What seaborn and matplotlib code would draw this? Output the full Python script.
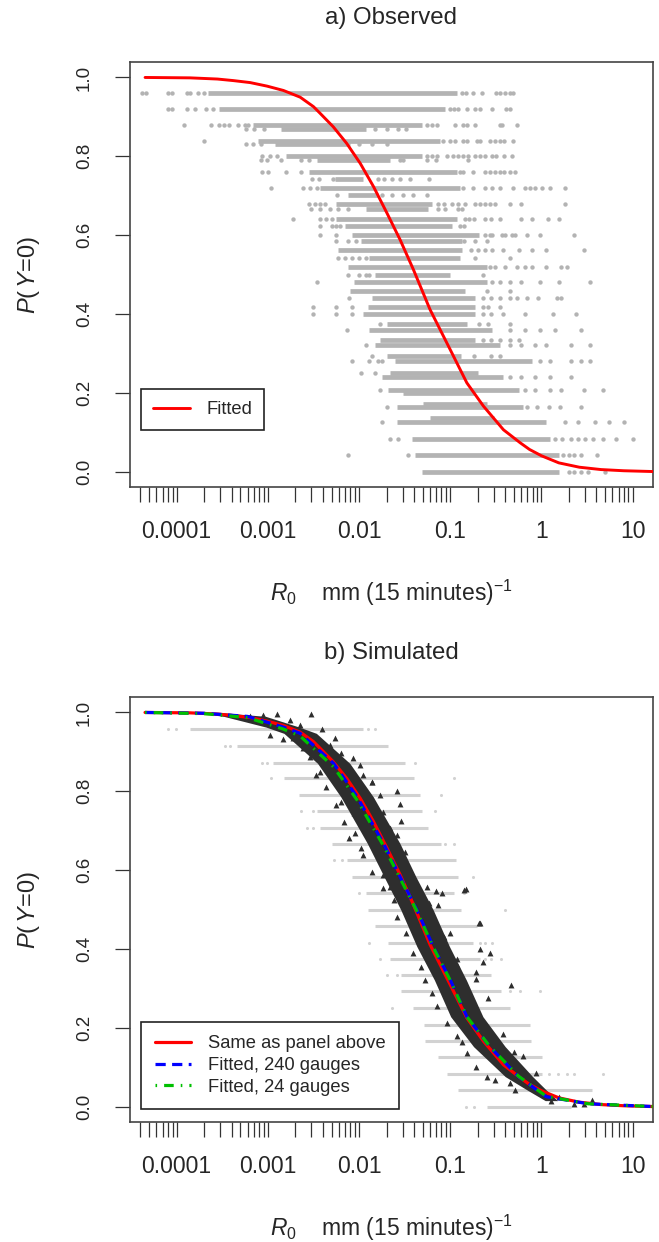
import matplotlib
matplotlib.use("Agg")
import matplotlib.pyplot as plt
import seaborn as sns
import pandas as pd
from matplotlib.ticker import FixedLocator, FixedFormatter, NullFormatter
from matplotlib.lines import Line2D

sns.set_theme(style="white")
plt.rcParams["font.family"] = ["Liberation Sans", "DejaVu Sans"]
plt.rcParams["mathtext.fontset"] = "custom"
plt.rcParams["mathtext.rm"] = "Liberation Sans"
plt.rcParams["mathtext.it"] = "Liberation Sans:italic"

# ---------------------------------------------------------------
# a) observed: rows of P(Y=0), dense part of each row + loose dots
# ---------------------------------------------------------------
obs_y = [0.96, 0.92, 0.88, 0.868, 0.84, 0.83, 0.80, 0.79, 0.76, 0.742,
         0.72, 0.702, 0.68, 0.666, 0.641, 0.624, 0.601, 0.584, 0.563, 0.542,
         0.52, 0.499, 0.48, 0.459, 0.44, 0.417, 0.40, 0.375, 0.36, 0.333,
         0.32, 0.292, 0.28, 0.25, 0.24, 0.208, 0.20, 0.172, 0.164, 0.135,
         0.125, 0.083, 0.042, 0.0]
obs_lo = [2.2e-4, 2.9e-4, 6.9e-4, 1.4e-3, 7.8e-4, 1.2e-3, 1.6e-3, 3.5e-3, 2.8e-3, 5.5e-3,
          3.7e-3, 7.6e-3, 5.6e-3, 1.2e-2, 5.6e-3, 7.0e-3, 8.4e-3, 1.05e-2, 5.8e-3, 1.3e-2,
          7.6e-3, 1.5e-2, 8.8e-3, 8.0e-3, 1.4e-2, 1.26e-2, 1.1e-2, 2.0e-2, 1.3e-2, 1.7e-2,
          1.5e-2, 2.0e-2, 2.5e-2, 2.2e-2, 1.8e-2, 2.1e-2, 3.0e-2, 5.0e-2, 2.6e-2, 6.0e-2,
          2.6e-2, 3.8e-2, 4.1e-2, 4.9e-2]
obs_hi = [0.119, 8.8e-2, 4.9e-2, 1.2e-2, 7.7e-2, 8.0e-3, 4.9e-2, 2.2e-2, 0.119, 1.1e-2,
          0.128, 1.6e-2, 6.3e-2, 5.7e-2, 0.119, 0.105, 0.205, 0.135, 0.135, 0.128,
          0.25, 0.10, 0.25, 0.145, 0.186, 0.186, 0.186, 0.152, 0.29, 0.186,
          0.35, 0.13, 0.79, 0.20, 0.38, 0.57, 0.186, 0.25, 0.63, 0.30,
          1.13, 1.25, 1.56, 1.56]
obs_dots = [
    [4.2e-5, 4.6e-5, 8.1e-5, 8.9e-5, 1.3e-4, 1.4e-4, 1.7e-4, 2.0e-4, 0.135, 0.149, 0.176, 0.22, 0.32, 0.35, 0.40, 0.45, 0.49],
    [8.1e-5, 8.9e-5, 1.3e-4, 1.6e-4, 2.1e-4, 2.5e-4, 0.10, 0.11, 0.122, 0.152, 0.186, 0.21, 0.29, 0.41, 0.45],
    [1.2e-4, 2.4e-4, 2.9e-4, 3.3e-4, 3.7e-4, 4.7e-4, 5.6e-4, 6.1e-4, 5.6e-2, 6.3e-2, 7.2e-2, 0.113, 0.138, 0.152, 0.186, 0.35, 0.37, 0.54],
    [5.8e-4, 7.0e-4, 9.0e-4, 1.5e-2, 2.0e-2, 2.7e-2, 3.3e-2],
    [2.0e-4, 8.3e-2, 0.10, 0.113, 0.138, 0.152, 0.195, 0.21, 0.27, 0.31, 0.35, 0.39, 0.49],
    [5.8e-4, 6.9e-4, 8.4e-4, 1.0e-2, 1.4e-2, 2.0e-2],
    [8.7e-4, 1.06e-3, 1.26e-3, 5.6e-2, 6.3e-2, 7.2e-2, 9.2e-2, 0.108, 0.122, 0.138, 0.156, 0.186, 0.21, 0.24, 0.29, 0.32, 0.39, 0.47],
    [8.4e-4, 9.8e-4, 1.4e-3, 2.3e-3, 2.8e-3, 2.8e-2, 3.0e-2, 5.6e-2, 7.0e-2, 0.156],
    [8.7e-4, 1.0e-3, 1.6e-3, 2.3e-3, 0.128, 0.138, 0.176, 0.24, 0.27, 0.31, 0.35, 0.39, 0.45, 0.51],
    [3.06e-3, 3.6e-3, 5.2e-3, 1.6e-2, 1.9e-2, 2.3e-2, 2.8e-2, 3.6e-2, 5.9e-2],
    [1.09e-3, 2.4e-3, 2.9e-3, 3.5e-3, 0.138, 0.176, 0.24, 0.29, 0.35, 0.49, 0.66, 0.75, 0.85, 1.02, 1.25, 1.82],
    [5.7e-3, 1.8e-2, 2.3e-2, 3.0e-2, 3.9e-2, 5.6e-2],
    [2.8e-3, 3.3e-3, 3.7e-3, 4.2e-3, 7.4e-2, 8.6e-2, 0.105, 0.122, 0.145, 0.186, 0.21, 0.24, 0.27, 0.31, 0.45, 0.60, 1.82],
    [3.0e-3, 3.7e-3, 4.8e-3, 5.8e-3, 7.6e-3, 7.4e-2, 8.8e-2, 0.122, 0.135],
    [1.9e-3, 3.7e-3, 4.3e-3, 5.1e-3, 0.145, 0.16, 0.18, 0.24, 0.28, 0.35, 0.60, 0.79, 1.18, 1.56],
    [3.7e-3, 5.1e-3, 5.6e-3, 6.2e-3, 0.128, 0.141],
    [3.7e-3, 5.6e-3, 0.24, 0.27, 0.29, 0.37, 0.40, 0.47, 0.51, 0.70, 0.97, 2.3],
    [5.6e-3, 7.6e-3, 9.3e-3, 0.141, 0.186, 0.25],
    [0.17, 0.20, 0.24, 0.29, 0.38, 0.57, 0.79, 1.13, 2.9],
    [5.8e-3, 7.0e-3, 8.4e-3, 1.0e-2, 1.2e-2, 0.186, 0.45],
    [0.27, 0.31, 0.40, 0.54, 0.66, 0.79, 1.13, 1.64, 1.9],
    [7.6e-3, 1.0e-2, 1.2e-2, 1.3e-2, 0.23],
    [3.5e-3, 0.29, 0.35, 0.45, 0.60, 0.97, 1.56, 3.4],
    [0.25, 0.45],
    [7.8e-3, 0.23, 0.28, 0.35, 0.45, 0.54, 0.70, 0.92, 1.49, 1.64],
    [3.1e-3, 5.6e-3, 8.4e-3, 0.23, 0.26, 0.35],
    [3.1e-3, 5.6e-3, 8.4e-3, 0.23, 0.28, 0.38, 0.66, 1.34, 2.4],
    [1.7e-2, 0.205, 0.26, 0.45],
    [7.4e-3, 0.45, 0.66, 0.97, 1.41, 2.7],
    [0.23, 0.28, 0.35, 0.45, 0.57],
    [1.2e-2, 0.45, 0.60, 0.85, 1.13, 2.1, 3.4],
    [1.4e-2, 0.18, 0.28, 0.35],
    [8.4e-3, 1.3e-2, 1.6e-2, 1.8e-2, 0.97, 1.25, 2.1, 2.7, 3.4],
    [1.05e-2, 1.5e-2],
    [0.45, 0.60, 0.85, 1.25, 2.1],
    [1.7e-2, 0.66, 0.85, 1.25, 1.64, 2.9, 4.7],
    [],
    [],
    [2.0e-2, 0.70, 0.90, 1.2, 1.6, 2.7],
    [],
    [1.8e-2, 1.82, 2.5, 3.9, 5.5, 8.0],
    [2.2e-2, 2.7e-2, 1.41, 1.7, 2.1, 2.5, 3.0, 3.7, 4.7, 6.5, 10.0],
    [7.5e-3, 3.4e-2, 1.73, 2.0, 2.3, 2.7, 4.1],
    [2.0, 2.3, 2.7, 3.2, 5.0],
]

# fitted curve (red)
fit_x = [4.5e-5, 1.4e-4, 2.8e-4, 4.2e-4, 6.4e-4, 9.8e-4, 1.48e-3, 2.26e-3, 3.16e-3, 3.74e-3,
         5.2e-3, 7.3e-3, 1.03e-2, 1.44e-2, 2.02e-2, 2.82e-2, 3.95e-2, 6.0e-2, 0.10, 0.152,
         0.231, 0.383, 0.584, 0.74, 1.0, 1.55, 2.6, 4.5, 8.0, 16.6]
fit_y = [1.0, 0.999, 0.996, 0.992, 0.987, 0.978, 0.967, 0.950, 0.926, 0.909,
         0.875, 0.833, 0.782, 0.723, 0.656, 0.588, 0.512, 0.411, 0.309, 0.225,
         0.166, 0.106, 0.073, 0.056, 0.040, 0.022, 0.011, 0.005, 0.002, 0.0]

# ---------------------------------------------------------------
# b) simulated
# ---------------------------------------------------------------
sim_y = [0.958, 0.915, 0.873, 0.833, 0.791, 0.750, 0.707, 0.666, 0.625, 0.583, 0.541, 0.50,
         0.458, 0.416, 0.374, 0.333, 0.292, 0.250, 0.208, 0.167, 0.125, 0.083, 0.042, 0.0]
sim_lo = [1.4e-4, 4.6e-4, 1.15e-3, 1.5e-3, 2.2e-3, 3.5e-3, 3.7e-3, 5.1e-3, 7.4e-3, 8.4e-3, 1.2e-2, 1.26e-2,
          1.5e-2, 2.1e-2, 2.2e-2, 2.9e-2, 2.9e-2, 3.9e-2, 5.1e-2, 5.3e-2, 7.4e-2, 9.2e-2, 0.122, 0.25]
sim_hi = [1.1e-2, 2.1e-2, 3.2e-2, 4.0e-2, 4.6e-2, 4.9e-2, 5.7e-2, 7.9e-2, 0.116, 0.122, 0.11, 0.13,
          0.195, 0.176, 0.21, 0.28, 0.36, 0.45, 0.75, 0.77, 1.02, 1.02, 3.6, 2.1]
sim_dots = [
    [8.1e-5, 9.9e-5, 1.26e-2, 1.5e-2],
    [3.4e-4, 3.8e-4],
    [8.7e-4, 9.8e-4, 4.1e-2],
    [1.09e-3, 0.11],
    [7.9e-2],
    [2.3e-3, 3.1e-3, 6.8e-2],
    [2.7e-3, 3.1e-3],
    [8.8e-2, 0.11],
    [5.3e-3, 6.5e-3],
    [0.176],
    [1.0e-2, 0.141],
    [0.40],
    [],
    [1.3e-2, 0.21, 0.24, 0.29],
    [1.7e-2, 0.24, 0.28, 0.36],
    [2.0e-2, 2.6e-2],
    [0.45, 0.58, 0.97],
    [2.3e-2],
    [],
    [],
    [],
    [1.2, 1.5, 1.9, 2.3, 4.7],
    [],
    [0.15, 0.18],
]

# dense core of the simulated-gauge cloud (triangles), left/right edge per level
cloud_y = [1.0, 0.99, 0.963, 0.947, 0.871, 0.786, 0.668, 0.583, 0.499, 0.406,
           0.321, 0.228, 0.152, 0.076, 0.04, 0.015]
cloud_lo = [1.6e-4, 3.3e-4, 9.5e-4, 1.5e-3, 3.5e-3, 6.3e-3, 1.23e-2, 1.88e-2, 2.87e-2, 4.3e-2,
            6.7e-2, 0.101, 0.18, 0.40, 0.72, 1.1]
cloud_hi = [3.0e-4, 9.5e-4, 2.2e-3, 3.4e-3, 7.9e-3, 1.43e-2, 2.8e-2, 4.2e-2, 6.5e-2, 9.8e-2,
            0.15, 0.228, 0.40, 0.80, 1.15, 1.5]

# triangles at the fuzzy edge of the cloud and the scattered outliers
tri_x = [3.0e-3, 3.9e-3, 1.06e-3, 1.45e-3, 5.5e-3, 8.5e-3, 1.03e-2, 3.4e-3, 1.4e-2, 2.6e-2,
         6.3e-3, 2.8e-2, 8.7e-3, 2.9e-2, 9.0e-3, 1.05e-2, 2.6e-2, 1.85e-2, 0.15, 6.9e-2,
         8.2e-2, 7.4e-2, 0.21, 0.10, 3.9e-2, 0.21, 0.27, 0.23, 0.12, 0.19,
         0.14, 0.19, 0.46, 0.26, 0.134, 0.38, 0.31, 0.50, 0.63, 0.87,
         1.26, 2.25, 3.6, 1.55, 2.9, 0.143, 0.205, 1.4e-2,
         6.4e-4, 8.9e-4, 1.25e-3, 1.75e-3, 2.26e-3, 1.9e-3, 2.45e-3, 4.8e-3, 6.4e-3, 2.9e-3,
         7.6e-3, 3.7e-3, 1.1e-2, 4.3e-3, 1.27e-2, 1.7e-2, 5.6e-3, 1.85e-2, 6.8e-3, 2.2e-2,
         7.8e-3, 2.4e-2, 1.1e-2, 3.2e-2, 1.37e-2, 3.3e-2, 1.85e-2,
         2.2e-2, 5.5e-2, 2.4e-2, 5.8e-2, 2.6e-2, 6.6e-2, 3.3e-2, 8.5e-2, 9.6e-2, 4.8e-2,
         0.118, 5.3e-2, 6.3e-2, 0.152, 7.1e-2, 0.18, 9.2e-2, 0.23, 0.118, 0.30,
         0.152, 0.383, 0.19, 0.25, 0.45, 0.51]
tri_y = [0.997, 0.959, 0.944, 0.932, 0.934, 0.885, 0.866, 0.841, 0.823, 0.800,
         0.773, 0.767, 0.744, 0.724, 0.693, 0.655, 0.689, 0.588, 0.551, 0.547,
         0.543, 0.511, 0.467, 0.44, 0.39, 0.40, 0.389, 0.368, 0.374, 0.342,
         0.321, 0.323, 0.309, 0.275, 0.165, 0.184, 0.068, 0.139, 0.129, 0.085,
         0.013, 0.007, 0.017, 0.025, 0.007, 0.549, 0.467, 0.824,
         0.991, 0.993, 0.995, 0.980, 0.968, 0.934, 0.909, 0.917, 0.896, 0.887,
         0.862, 0.849, 0.841, 0.811, 0.790, 0.790, 0.765, 0.748, 0.723, 0.706,
         0.681, 0.664, 0.638, 0.647, 0.596, 0.588, 0.554,
         0.558, 0.558, 0.524, 0.516, 0.482, 0.473, 0.44, 0.431, 0.385, 0.355,
         0.359, 0.321, 0.288, 0.292, 0.254, 0.254, 0.211, 0.211, 0.178, 0.178,
         0.135, 0.127, 0.101, 0.076, 0.059, 0.042]

# fitted curves from the simulations
fit240_x = [4.5e-5, 2.0e-4, 6.0e-4, 1.47e-3, 2.26e-3, 5.25e-3, 9.5e-3, 1.85e-2, 2.82e-2,
            4.3e-2, 6.5e-2, 0.10, 0.152, 0.27, 0.56, 1.13, 3.25, 16.6]
fit240_y = [1.0, 0.998, 0.99, 0.963, 0.947, 0.871, 0.786, 0.668, 0.583,
            0.499, 0.406, 0.321, 0.228, 0.152, 0.076, 0.025, 0.007, 0.0]
fit24_x = fit240_x
fit24_y = [1.0, 0.997, 0.987, 0.958, 0.940, 0.862, 0.778, 0.662, 0.579,
           0.496, 0.404, 0.320, 0.228, 0.153, 0.077, 0.026, 0.007, 0.0]

x_ticks = [1e-4, 1e-3, 1e-2, 1e-1, 1, 10]
x_tick_labels = ["0.0001", "0.001", "0.01", "0.1", "1", "10"]
y_ticks = [0.0, 0.2, 0.4, 0.6, 0.8, 1.0]
y_tick_labels = ["0.0", "0.2", "0.4", "0.6", "0.8", "1.0"]

GRAY_A = "#b3b3b3"
GRAY_B = "#d2d2d2"
TRI = "#2e2e2e"


def dots_frame(rows, dots):
    xs, ys = [], []
    for y, row in zip(rows, dots):
        for x in row:
            xs.append(x)
            ys.append(y)
    return pd.DataFrame({"R0": xs, "P": ys})


def style_axes(ax, title):
    ax.set_xscale("log")
    ax.set_xlim(3.1e-5, 16.5)
    ax.set_ylim(-0.04, 1.04)
    minor = [k * 10.0 ** d for d in range(-5, 2) for k in range(2, 10)]
    minor = [m for m in minor if 3e-5 <= m <= 16]
    ax.xaxis.set_major_locator(FixedLocator(x_ticks))
    ax.xaxis.set_major_formatter(FixedFormatter(x_tick_labels))
    ax.xaxis.set_minor_locator(FixedLocator(minor))
    ax.xaxis.set_minor_formatter(NullFormatter())
    ax.yaxis.set_major_locator(FixedLocator(y_ticks))
    ax.yaxis.set_major_formatter(FixedFormatter(y_tick_labels))
    ax.tick_params(axis="x", which="both", direction="out", length=10.8, width=0.9,
                   color="#333333", labelsize=16.5, pad=13, bottom=True)
    ax.tick_params(axis="y", which="both", direction="out", length=10.8, width=0.9,
                   color="#333333", labelsize=13.5, pad=16, left=True, labelrotation=90)
    for lab in ax.get_yticklabels():
        lab.set_va("center")
    for sp in ax.spines.values():
        sp.set_color("#444444")
        sp.set_linewidth(1.2)
    ax.set_xlabel(r"$R_0$    mm (15 minutes)$^{-1}$", fontsize=16.5)
    ax.xaxis.set_label_coords(0.5, -0.212)
    ax.set_ylabel(r"$P$($\,Y$=0)", fontsize=17)
    ax.yaxis.set_label_coords(-0.169, 0.5)
    ax.text(0.5, 1.103, title, transform=ax.transAxes, ha="center", va="center", fontsize=17.3)
    ax.grid(False)


fig = plt.figure(figsize=(6.59, 12.42), dpi=100)
W, H = 659.0, 1242.0
ax1 = fig.add_axes([130.3 / W, 1 - 487.3 / H, 522.2 / W, 425.6 / H])
ax2 = fig.add_axes([130.3 / W, 1 - 1122.3 / H, 522.2 / W, 425.6 / H])

# ---- panel a ----
ax1.set_xscale("log")
ax1.hlines(obs_y, obs_lo, obs_hi, colors=GRAY_A, linewidth=3.4, zorder=1)
sns.scatterplot(data=dots_frame(obs_y, obs_dots), x="R0", y="P", ax=ax1, s=10,
                color=GRAY_A, linewidth=0, zorder=1, legend=False)
sns.lineplot(x=fit_x, y=fit_y, ax=ax1, color="red", linewidth=2.1, estimator=None,
             sort=False, zorder=4)
style_axes(ax1, "a) Observed")
ax1.legend(handles=[Line2D([0], [0], color="red", lw=2.1)], labels=["Fitted"],
           loc="lower left", bbox_to_anchor=(0.0205, 0.135), borderaxespad=0,
           fontsize=13.2, frameon=True, fancybox=False, edgecolor="#222222",
           framealpha=1, borderpad=0.65, handlelength=2.0, handletextpad=0.9)
ax1.get_legend().get_frame().set_linewidth(1.2)

# ---- panel b ----
ax2.set_xscale("log")
ax2.hlines(sim_y, sim_lo, sim_hi, colors=GRAY_B, linewidth=2.2, zorder=1)
sns.scatterplot(data=dots_frame(sim_y, sim_dots), x="R0", y="P", ax=ax2, s=5,
                color=GRAY_B, linewidth=0, zorder=1, legend=False)
ax2.fill_betweenx(cloud_y, cloud_lo, cloud_hi, color=TRI, linewidth=0, zorder=2)
sns.scatterplot(x=tri_x, y=tri_y, ax=ax2, marker="^", s=18, color=TRI, linewidth=0,
                zorder=3, legend=False)
sns.lineplot(x=fit_x, y=fit_y, ax=ax2, color="red", linewidth=2.3, estimator=None,
             sort=False, zorder=4)
sns.lineplot(x=fit240_x, y=fit240_y, ax=ax2, color="blue", linewidth=2.3, estimator=None,
             sort=False, zorder=5)
ax2.lines[-1].set_linestyle((0, (3.2, 2.0)))
sns.lineplot(x=fit24_x, y=fit24_y, ax=ax2, color="#00c000", linewidth=2.3, estimator=None,
             sort=False, zorder=6)
ax2.lines[-1].set_linestyle((0, (0.5, 2.2, 3.0, 2.2)))
style_axes(ax2, "b) Simulated")
handles = [Line2D([0], [0], color="red", lw=2.3),
           Line2D([0], [0], color="blue", lw=2.3, linestyle=(0, (3.2, 2.0))),
           Line2D([0], [0], color="#00c000", lw=2.3, linestyle=(0, (0.5, 2.2, 3.0, 2.2)))]
ax2.legend(handles=handles, labels=["Same as panel above", "Fitted, 240 gauges", "Fitted, 24 gauges"],
           loc="lower left", bbox_to_anchor=(0.0205, 0.0305), borderaxespad=0,
           fontsize=13.2, frameon=True, fancybox=False, edgecolor="#222222",
           framealpha=1, borderpad=0.75, labelspacing=0.25, handlelength=2.0,
           handletextpad=0.9)
ax2.get_legend().get_frame().set_linewidth(1.2)

fig.savefig("out.png", dpi=100)
